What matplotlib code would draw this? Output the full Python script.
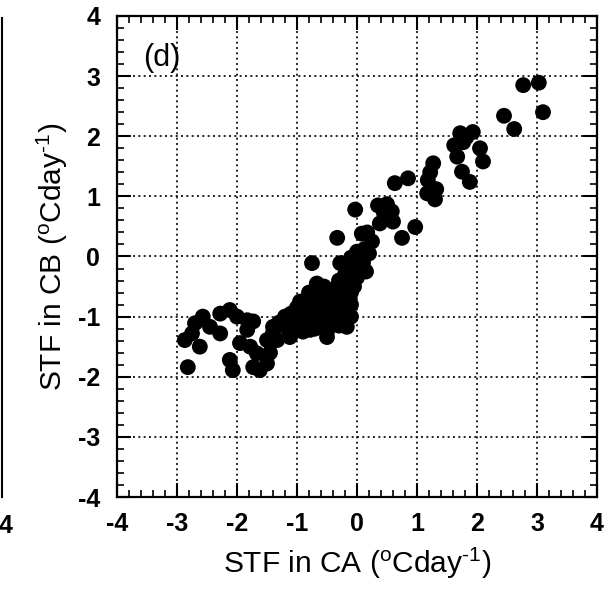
import matplotlib
matplotlib.use("Agg")
import matplotlib.pyplot as plt
from matplotlib.ticker import MultipleLocator
from matplotlib.lines import Line2D

plt.rcParams['font.family'] = ['Liberation Sans', 'DejaVu Sans']
plt.rcParams['mathtext.fontset'] = 'custom'
plt.rcParams['mathtext.rm'] = 'Liberation Sans'

# STF in CA (x) vs STF in CB (y)
stf_ca = [
    2.77, 3.03, 3.10, 2.45, 2.62,
    1.72, 1.93, 1.77, 2.05, 1.67, 2.10, 1.75, 1.88, 1.82, 1.62,
    1.27, 1.22, 1.18, 1.32, 1.17, 1.30,
    0.63, 0.85, -0.03,
    0.35, 0.50, 0.45, 0.58, 0.38, 0.60, 0.97, 0.75,
    0.08, 0.25, -0.33, 0.17,
    0.00, -0.10, 0.10, -0.20, 0.15, -0.28, 0.05, -0.05, -0.75,
    -1.30, -1.20, -1.10, -1.00, -0.95, -0.90, -0.85, -0.80, -0.75, -0.70,
    -0.65, -0.60, -0.60, -0.55, -0.50, -0.45, -0.40, -0.35, -0.30, -0.25,
    -0.20, -0.15, -0.10, -0.05, 0.00, -0.20, -0.10, -0.30, -0.50, -0.70,
    -0.90, -1.00, -1.10, -0.80, -1.15, -0.15, 0.05, -0.67, -0.55,
    -1.20, -1.05, -0.95, -0.85, -0.70, -0.60, -0.45, -0.35, -0.25, -0.40,
    -0.30, -0.20, -0.10, -0.05, 0.00, -0.15, -0.50, -0.85, -0.65, -0.95,
    0.12, 0.20,
    -2.82, -2.87, -2.70, -2.57, -2.75, -2.62, -2.45, -2.28, -2.28, -2.12,
    -2.00, -1.83, -1.73, -1.83,
    -2.07, -2.12, -1.95, -1.78, -1.73, -1.62, -1.50, -1.67, -1.40, -1.33,
    -1.45, -1.50, -1.12, -0.50, -0.78, -0.17, -1.40,
]
stf_cb = [
    2.85, 2.89, 2.40, 2.34, 2.12,
    2.05, 2.07, 1.90, 1.80, 1.66, 1.58, 1.41, 1.24, 1.98, 1.85,
    1.55, 1.40, 1.27, 1.12, 1.05, 0.95,
    1.22, 1.30, 0.78,
    0.85, 0.87, 0.72, 0.75, 0.55, 0.58, 0.49, 0.31,
    0.38, 0.25, 0.31, 0.40,
    0.08, -0.02, -0.10, -0.15, -0.25, -0.11, -0.25, -0.40, -0.11,
    -1.10, -1.00, -0.95, -0.85, -0.75, -0.90, -1.05, -0.80, -0.95, -0.70,
    -0.85, -1.00, -0.60, -0.75, -0.90, -0.65, -0.80, -1.00, -0.55, -0.75,
    -0.90, -0.45, -0.60, -0.30, -0.15, -0.30, -1.00, -1.15, -1.25, -1.20,
    -1.25, -1.15, -1.30, -0.60, -1.20, -0.20, -0.05, -0.45, -0.50,
    -1.15, -1.05, -1.10, -0.95, -1.05, -0.90, -0.95, -0.85, -1.05, -0.55,
    -0.40, -0.60, -0.80, -0.50, -0.35, -0.70, -1.10, -1.15, -0.65, -0.95,
    0.12, 0.05,
    -1.84, -1.39, -1.11, -1.00, -1.28, -1.50, -1.17, -1.28, -0.95, -0.89,
    -1.00, -1.06, -1.08, -1.22,
    -1.89, -1.72, -1.44, -1.50, -1.84, -1.89, -1.78, -1.61, -1.17, -1.39,
    -1.60, -1.39, -1.34, -1.34, -1.22, -1.17, -1.27,
]

ticks = [-4, -3, -2, -1, 0, 1, 2, 3, 4]
tick_labels = ['-4', '-3', '-2', '-1', '0', '1', '2', '3', '4']

fig = plt.figure(figsize=(6.10, 5.96), dpi=100)
ax = fig.add_axes([0.1918, 0.1661, 0.7869, 0.8071])

ax.scatter(stf_ca, stf_cb, s=130, c='black', edgecolors='none', zorder=3)

ax.set_xlim(-4, 4)
ax.set_ylim(-4, 4)
ax.set_xticks(ticks)
ax.set_xticklabels(tick_labels, fontweight='bold')
ax.set_yticks(ticks)
ax.set_yticklabels(tick_labels, fontweight='bold')
ax.xaxis.set_minor_locator(MultipleLocator(0.2))
ax.yaxis.set_minor_locator(MultipleLocator(0.2))
ax.tick_params(which='both', direction='in', top=True, right=True, color='black')
ax.tick_params(which='major', length=10, width=1.5, labelsize=18)
ax.tick_params(which='minor', length=5, width=1.2)
ax.tick_params(axis='x', which='major', pad=11)
ax.tick_params(axis='y', which='major', pad=12)
for sp in ax.spines.values():
    sp.set_linewidth(1.6)
ax.grid(True, which='major', linestyle=(0, (1.2, 2.0)), color='black', linewidth=1.2)
ax.set_axisbelow(True)

ax.set_xlabel(r'STF in CA ($^{\rm o}$Cday$^{\text{-1}}$)', fontsize=21.5, labelpad=6)
ax.set_ylabel(r'STF in CB ($^{\rm o}$Cday$^{\text{-1}}$)', fontsize=21.5, labelpad=6)
ax.text(-3.25, 3.3, '(d)', fontsize=22, ha='center', va='center')

# edge of neighbouring panel
fig.add_artist(Line2D([2/610, 2/610], [1 - 18/596, 1 - 497/596], color='black', lw=1.5))
fig.text(12/610, 1 - 526/596, '4', fontsize=18, fontweight='bold', ha='right', va='center')

fig.savefig('out.png', dpi=100)
